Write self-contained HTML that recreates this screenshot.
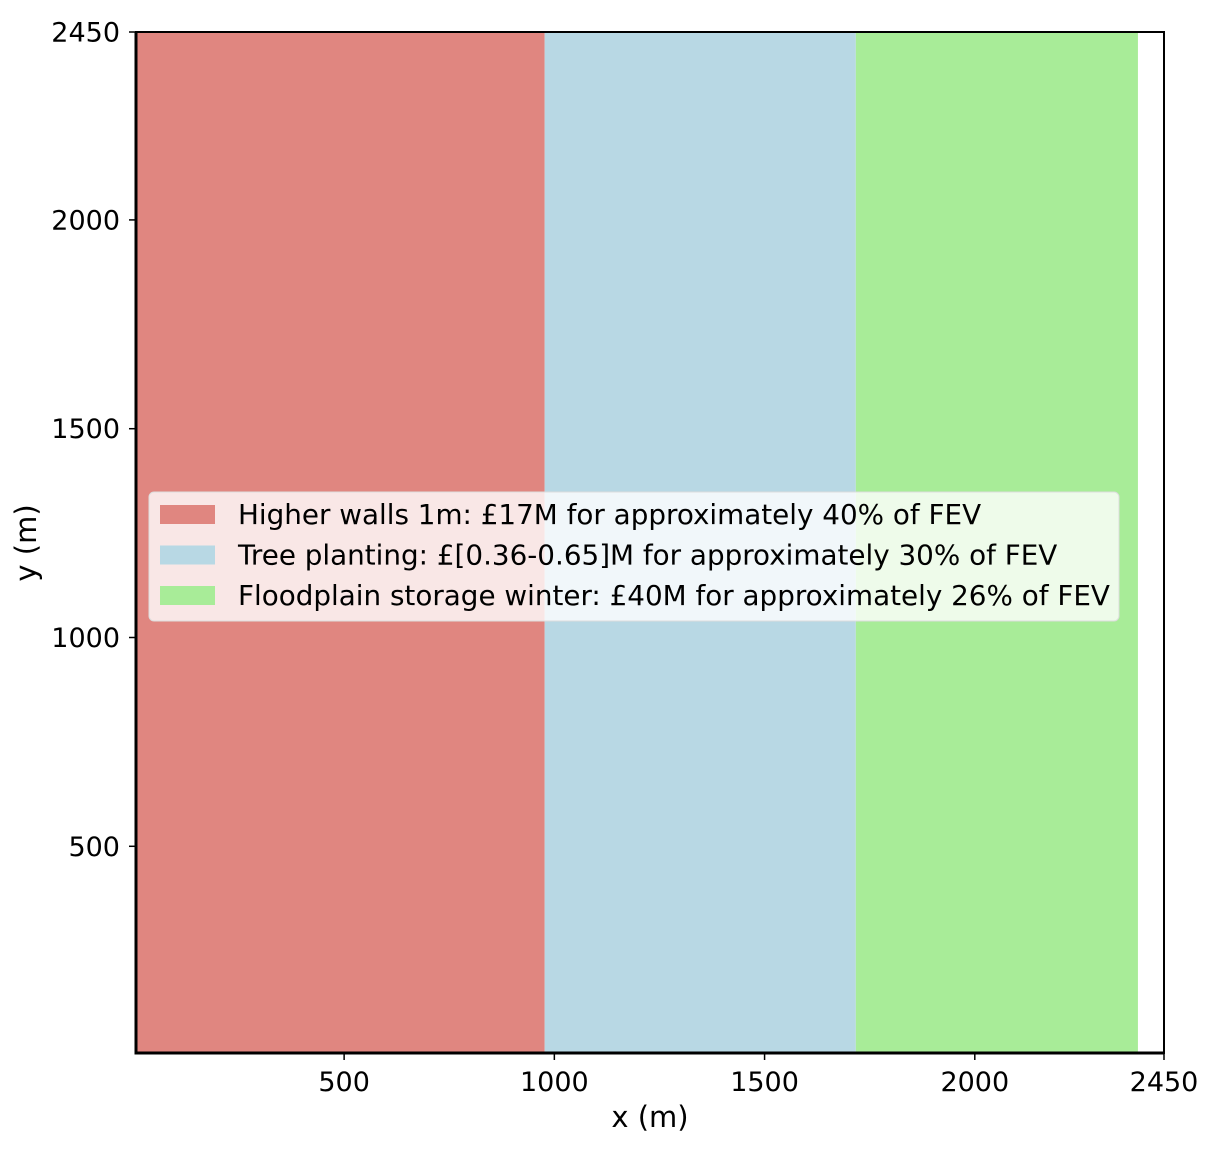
<!DOCTYPE html>
<html><head><meta charset="utf-8"><style>
body{margin:0;background:#fff;}
svg text{font-family:"DejaVu Sans","Liberation Sans",sans-serif;fill:#000;}
</style></head><body>
<svg width="1218" height="1150">
<g id="bands"></g>
<g id="axes"></g>
</svg>
<script>
const bandStarts=[5,977,1717];
const bandEnds=[977,1717,2388];
const bandColors=["#e08680","#b8d8e4","#a8ec98"];
const bandNames=["higher-walls-band","tree-planting-band","floodplain-storage-band"];
const legendLabels=["Higher walls 1m: £17M for approximately 40% of FEV","Tree planting: £[0.36-0.65]M for approximately 30% of FEV","Floodplain storage winter: £40M for approximately 26% of FEV"];
const xTicks=[500,1000,1500,2000,2450];
const yTicks=[500,1000,1500,2000,2450];
const xMin=5,xMax=2450,yMin=5,yMax=2450;
const L=136,R=1164,T=32,B=1053;
const sx=v=>L+(v-xMin)/(xMax-xMin)*(R-L);
const sy=v=>B-(v-yMin)/(yMax-yMin)*(B-T);
const NS="http://www.w3.org/2000/svg";
function mk(tag,attrs,parent,text){const e=document.createElementNS(NS,tag);for(const k in attrs)e.setAttribute(k,attrs[k]);if(text!==undefined)e.textContent=text;parent.appendChild(e);return e;}
const bands=document.getElementById('bands'),axes=document.getElementById('axes');
bandStarts.forEach((s,i)=>{
 const r=mk('rect',{x:sx(s),y:T,width:sx(bandEnds[i])-sx(s),height:B-T,fill:bandColors[i]},bands);
 
 
});
const fr=mk('rect',{x:L,y:T,width:R-L,height:B-T,fill:'none',stroke:'#000','stroke-width':2},axes);


mk('line',{x1:L,x2:L,y1:T,y2:B+1.5,stroke:'#000','stroke-width':3},axes);
mk('line',{x1:L-1.5,x2:R,y1:B,y2:B,stroke:'#000','stroke-width':3},axes);
xTicks.forEach(t=>{
 const x=sx(t);
 mk('line',{x1:x,x2:x,y1:B,y2:B+7,stroke:'#000','stroke-width':1.5},axes);
 const tx=mk('text',{x:x,y:B+38,'font-size':27,'text-anchor':'middle'},axes,t);
 
 
});
yTicks.forEach(t=>{
 const y=sy(t);
 mk('line',{x1:L-7,x2:L,y1:y,y2:y,stroke:'#000','stroke-width':1.5},axes);
 const tx=mk('text',{x:L-16,y:y+9.5,'font-size':27,'text-anchor':'end'},axes,t);
 
 
});
const xl=mk('text',{x:650,y:1127,'font-size':29,'text-anchor':'middle'},axes,'x (m)');


const yl=mk('text',{x:0,y:0,'font-size':29,'text-anchor':'middle',transform:'translate(36,543) rotate(-90)'},axes,'y (m)');


const lg=mk('g',{},axes);


mk('rect',{x:149,y:492,width:970,height:129,rx:5,fill:'rgba(255,255,255,0.8)',stroke:'#ddd'},lg);
legendLabels.forEach((s,i)=>{
 const y=514+i*40.5;
 const p=mk('rect',{x:160,y:y-9,width:55,height:19,fill:bandColors[i]},lg);
 
 
 const t=mk('text',{x:238,y:y+10,'font-size':27.8},lg,s);
 
 
});
</script>
</body></html>
